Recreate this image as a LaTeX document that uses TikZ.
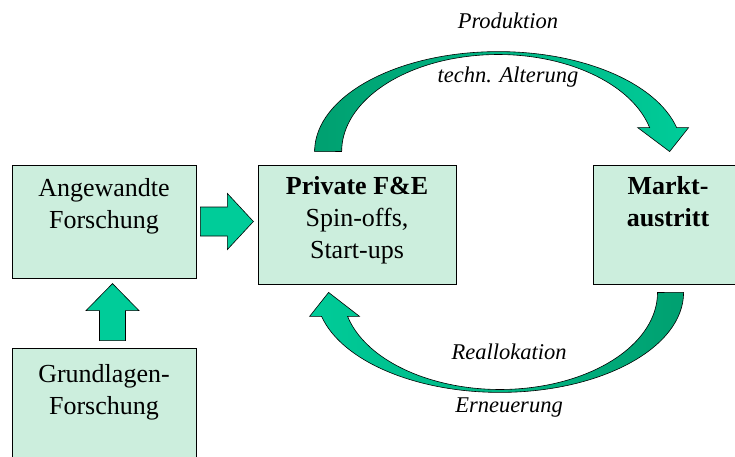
\documentclass[tikz,border=0pt]{standalone}
\usepackage{fontspec}
\setmainfont{Liberation Serif}
\usetikzlibrary{positioning,calc}
\definecolor{boxfill}{RGB}{204,238,221}
\definecolor{arcdark}{RGB}{0,160,112}
\definecolor{arcbright}{RGB}{0,204,153}

\begin{document}
\begin{tikzpicture}[x=1pt,y=-1pt,
    box/.style={draw=black,fill=boxfill,line width=.8pt,inner sep=0pt},
    boxtext/.style={align=center,inner sep=0pt,font=\fontsize{26}{32}\selectfont},
    boldtext/.style={boxtext,font=\fontsize{26}{32}\selectfont\bfseries},
    arclabel/.style={inner sep=0pt,anchor=base,font=\fontsize{22.5}{27}\selectfont\itshape},
    blockarrow/.style={draw=black,fill=arcbright,line width=.6pt,line join=miter},
    bigarc/.style={draw=black,line width=.6pt,line join=miter}]
  \useasboundingbox (0,0) rectangle (735,457);
  \node[box,minimum width=184,minimum height=113] (ang) at (104,221.5) {};
  \node[box,minimum width=184,minimum height=122] (grund) at (104,409) {};
  \node[box,minimum width=198,minimum height=119] (priv) at (357,224.5) {};
  \node[box,minimum width=152,minimum height=119] (markt) at (669,224.5) {};
  \node[boxtext,below=14pt of ang.north] (angtext) {Angewandte\\Forschung};
  \node[boxtext,below=17pt of grund.north] (grundtext) {Grundlagen-\\Forschung};
  \node[boxtext,below=12pt of priv.north] (privtext) {\textbf{Private F\&E}\\Spin-offs,\\Start-ups};
  \node[boldtext,below=12pt of markt.north,xshift=-1pt] (markttext) {Markt-\\austritt};
  \draw[blockarrow] ($(ang.east)+(4,-14.5)$) -- ++(27,0) -- ++(0,-13.5) -- ++(26,28)
    -- ++(-26,28) -- ++(0,-13.5) -- ++(-27,0) -- cycle;
  \draw[blockarrow] ($(grund.north)+(-4.5,-7)$) -- ++(0,-30) -- ++(-13.5,0) -- ++(26.5,-27)
    -- ++(26.5,27) -- ++(-13.5,0) -- ++(0,30) -- cycle;
  \draw[bigarc,left color=arcdark,right color=arcbright]
    ($(priv.north west)+(57,-13)$) arc[start angle=180,end angle=346.1,x radius=183.7,y radius=100]
    -- ++(12,0) -- ++(-19,24) -- ++(-32,-24) -- ++(12,0)
    arc[start angle=345.7,end angle=180,x radius=156.4,y radius=97] -- cycle;
  \draw[bigarc,left color=arcbright,right color=arcdark]
    ($(markt.south west)+(91,8)$) arc[start angle=0,end angle=166.1,x radius=183.7,y radius=100]
    -- ++(-12,0) -- ++(19,-24) -- ++(31,24) -- ++(-12,0)
    arc[start angle=165.7,end angle=0,x radius=157.4,y radius=97] -- cycle;
  \node[arclabel] (prod) at (508,29) {Produktion};
  \node[arclabel] (alter) at (508,83) {techn. Alterung};
  \node[arclabel] (realloc) at (509,359) {Reallokation};
  \node[arclabel] (erneu) at (509,412) {Erneuerung};
\end{tikzpicture}
\end{document}
